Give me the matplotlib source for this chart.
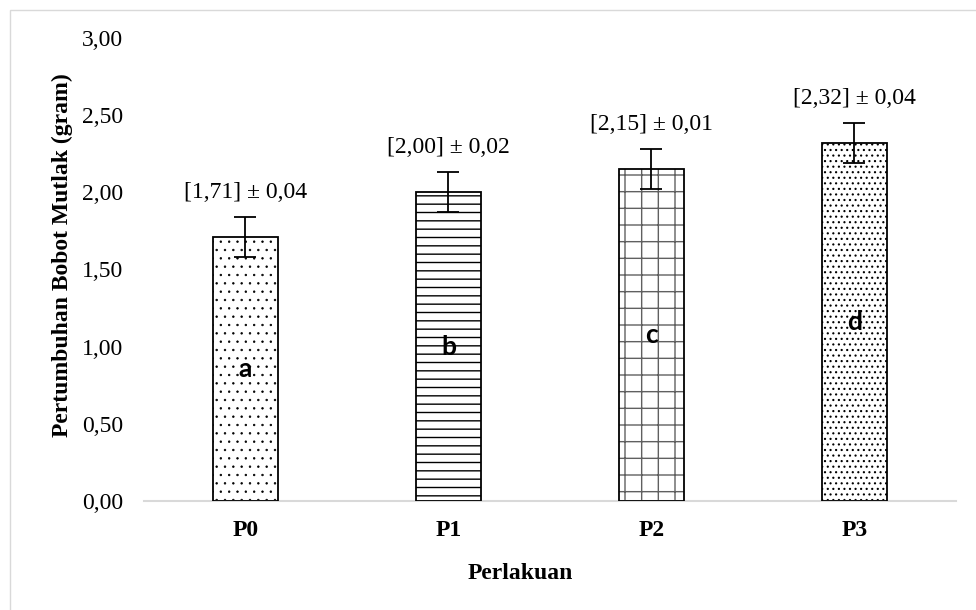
import numpy as np
import matplotlib
matplotlib.use('Agg')
import matplotlib.pyplot as plt
from matplotlib.patches import Rectangle

# data
treatments = ['P0', 'P1', 'P2', 'P3']
means = [1.71, 2.00, 2.15, 2.32]
sd_text = ['0,04', '0,02', '0,01', '0,04']
err_bar = [0.13, 0.13, 0.13, 0.13]
letters = ['a', 'b', 'c', 'd']
y_ticks = [0.0, 0.5, 1.0, 1.5, 2.0, 2.5, 3.0]

hatches = ['..', '--', '+', '...']
hatch_colors = ['black', 'black', '#606060', 'black']
hatch_lw = [0.5, 1.0, 1.0, 0.8]

plt.rcParams['font.family'] = ['Liberation Serif', 'DejaVu Serif']

fig = plt.figure(figsize=(9.76, 6.10), dpi=100)
ax = fig.add_axes([0.1475, 0.1787, 0.832, 0.759])

x = np.arange(len(treatments))
width = 0.32

# hatched fill, then black outline on top
for i in range(len(x)):
    with plt.rc_context({'hatch.linewidth': hatch_lw[i]}):
        ax.bar(x[i], means[i], width, color='white', hatch=hatches[i],
               edgecolor=hatch_colors[i], linewidth=0, zorder=2)
ax.bar(x, means, width, fill=False, edgecolor='black', linewidth=1.3, zorder=3)

ax.errorbar(x, means, yerr=err_bar, fmt='none', ecolor='black',
            elinewidth=1.3, capsize=8, capthick=1.3, zorder=4)

# value labels above error bars
for i in range(len(x)):
    lab = '[' + ('%.2f' % means[i]).replace('.', ',') + '] \u00b1 ' + sd_text[i]
    ax.text(x[i], means[i] + err_bar[i] + 0.16, lab, ha='center', va='center',
            fontsize=17)
    # significance letters in the middle of the bars
    ax.text(x[i], means[i] / 2, letters[i], ha='center', va='center',
            fontsize=19, fontweight='bold', family=['Lato', 'DejaVu Sans'], zorder=5)

ax.set_xlim(-0.5, 3.5)
ax.set_ylim(0, 3.0)
ax.set_yticks(y_ticks)
ax.set_yticklabels([('%.2f' % v).replace('.', ',') for v in y_ticks], fontsize=17)
ax.set_xticks(x)
ax.set_xticklabels(treatments, fontsize=17, fontweight='bold')
ax.tick_params(axis='both', length=0)
ax.tick_params(axis='y', pad=15)
ax.tick_params(axis='x', pad=14)

for s in ['top', 'right', 'left']:
    ax.spines[s].set_visible(False)
ax.spines['bottom'].set_color('#d9d9d9')
ax.spines['bottom'].set_linewidth(1.5)

ax.set_xlabel('Perlakuan', fontsize=17, fontweight='bold')
ax.set_ylabel('Pertumbuhan Bobot Mutlak (gram)', fontsize=17, fontweight='bold')
ax.xaxis.set_label_coords(0.464, -0.135)
ax.yaxis.set_label_coords(-0.088, 0.531)

# light grey chart area border
fig.patches.append(Rectangle((9.5 / 976, -0.1), 1.2, 1.1 - 9.5 / 610,
                             transform=fig.transFigure, fill=False,
                             edgecolor='#d9d9d9', linewidth=1.0))

fig.savefig('out.png', dpi=100)
